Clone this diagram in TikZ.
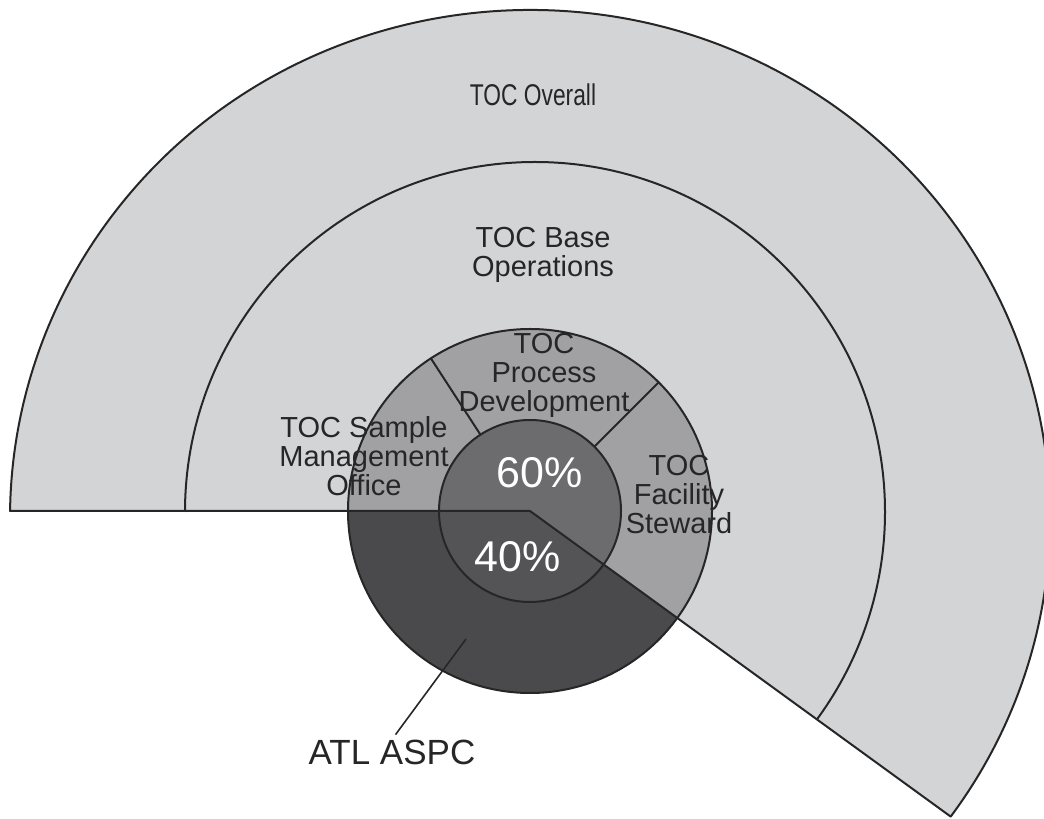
\documentclass[tikz,border=0pt]{standalone}
\usepackage{fontspec}
\setmainfont{Liberation Sans}
\newfontfamily\narrowsans{Liberation Sans}[FakeStretch=0.76]
\usetikzlibrary{calc}
\definecolor{bandgray}{HTML}{D3D4D6}
\definecolor{ringgray}{HTML}{A1A1A3}
\definecolor{coregray}{HTML}{6C6C6E}
\definecolor{ringdark}{HTML}{4A4A4C}
\definecolor{coredark}{HTML}{545456}
\definecolor{inkgray}{HTML}{262626}
\begin{document}
\begin{tikzpicture}[x=1pt,y=1pt,
  outline/.style={draw=inkgray, line width=2pt, line join=round},
  lbl/.style={text=inkgray, align=center, inner sep=0pt,
    font=\fontsize{29}{29}\selectfont},
  pct/.style={text=white, inner sep=0pt, font=\fontsize{43}{43}\selectfont}]
\useasboundingbox (0,0) rectangle (1044,819);

\coordinate (C) at (530,308);   % common centre of the rings
\coordinate (E) at (530,301);   % centre of the overall band
\coordinate (M) at (535,307);   % centre of the base-operations arc

% outer band (overall)
\fill[bandgray] (C) -- ($(E)+(-36:520pt and 508pt)$)
  arc[start angle=-36, end angle=179.21, x radius=520pt, y radius=508pt] -- cycle;

% middle ring: 60% upper part and 40% lower part
\fill[ringgray] (C) -- ++(-36:182pt) arc[start angle=-36, end angle=180, radius=182pt] -- cycle;
\fill[ringdark] (C) -- ++(180:182pt) arc[start angle=180, end angle=324, radius=182pt] -- cycle;

% core disc
\fill[coregray] (C) -- ++(-36:91pt) arc[start angle=-36, end angle=180, radius=91pt] -- cycle;
\fill[coredark] (C) -- ++(180:91pt) arc[start angle=180, end angle=324, radius=91pt] -- cycle;

% outlines
\draw[outline] (C) -- ($(E)+(-36:520pt and 508pt)$)
  arc[start angle=-36, end angle=179.21, x radius=520pt, y radius=508pt] -- cycle;
\draw[outline] (M) ++(180:350pt) arc[start angle=180, end angle=-36.35, radius=350pt];
\draw[outline] (C) circle[radius=182pt];
\draw[outline] (C) circle[radius=91pt];
\draw[outline] ($(C)+(123:91pt)$) -- ($(C)+(123:182pt)$);
\draw[outline] ($(C)+(45:91pt)$) -- ($(C)+(45:182pt)$);

% labels
\node[lbl, font=\narrowsans\fontsize{30}{30}\selectfont] (overall) at (533,724) {TOC Overall};
\node[lbl] (baseops) at (543,564) {TOC Base\\Operations};
\node[lbl] (procdev) at (544,444) {TOC\\Process\\Development};
\node[lbl] (sample)  at (364,363) {TOC Sample\\Management\\Office};
\node[lbl] (steward) at (679,324) {TOC\\Facility\\Steward};
\node[pct] (p60) at (540,346) {60\%};
\node[pct] (p40) at (518,262) {40\%};
\node[lbl, font=\fontsize{35}{35}\selectfont] (atl) at (392,67) {ATL ASPC};

% leader to the ATL ASPC label
\coordinate (lead) at (466,180);
\draw[outline, line width=1.6pt, shorten >=6pt] (lead) -- (atl.north);
\end{tikzpicture}
\end{document}
